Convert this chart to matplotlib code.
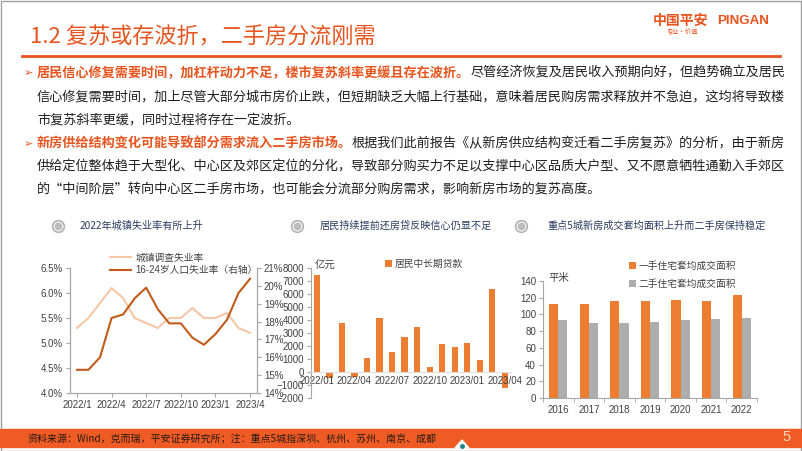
import numpy as np
import matplotlib
matplotlib.use('Agg')
import matplotlib.pyplot as plt
from matplotlib.patches import Rectangle, Polygon

plt.rcParams['font.family'] = ['Liberation Sans', 'Noto Sans CJK SC']
CJK = ['Noto Sans CJK SC', 'DejaVu Sans']

## DATA
months = ['2022/1', '2022/2', '2022/3', '2022/4', '2022/5', '2022/6', '2022/7', '2022/8',
          '2022/9', '2022/10', '2022/11', '2022/12', '2023/1', '2023/2', '2023/3', '2023/4']
urban_rate = [5.3, 5.5, 5.8, 6.1, 5.9, 5.5, 5.4, 5.3, 5.5, 5.5, 5.7, 5.5, 5.5, 5.6, 5.3, 5.2]
youth_rate = [15.3, 15.3, 16.0, 18.2, 18.4, 19.3, 19.9, 18.7, 17.9, 17.9, 17.1, 16.7, 17.3, 18.1, 19.6, 20.4]

loan_months = ['2022/01', '2022/02', '2022/03', '2022/04', '2022/05', '2022/06', '2022/07', '2022/08',
               '2022/09', '2022/10', '2022/11', '2022/12', '2023/01', '2023/02', '2023/03', '2023/04']
loans = [7430, -460, 3760, -420, 1090, 4180, 1530, 2670, 3480, 370, 2140, 1910, 2240, 900, 6380, -1230]

years = ['2016', '2017', '2018', '2019', '2020', '2021', '2022']
new_area = [112, 113, 116, 116, 117, 116, 123]
resale_area = [93, 90, 90, 91, 93, 95, 96]

ORANGE = '#E8541E'
BAR_OR = '#ED7D31'
BAR_GR = '#ADADAD'
DARK = '#1E1E1E'
NAVY = '#2A3A5E'
AXC = '#A6A6A6'
TICKC = '#404040'

fig = plt.figure(figsize=(8.02, 4.51), dpi=100)
bg = fig.add_axes([0, 0, 1, 1])
bg.set_xlim(0, 802)
bg.set_ylim(451, 0)
bg.axis('off')
r = fig.canvas.get_renderer()


def fit_line(parts, x0, x1, y, size=None):
    # draw pieces side by side, scale font so the line ends at x1
    arts = []
    for txt, col, wt in parts:
        arts.append(bg.text(x0, y, txt, color=col, weight=wt, family=CJK,
                            fontsize=10, va='center', ha='left', zorder=3))
    if size is None:
        w = sum(a.get_window_extent(r).width for a in arts)
        size = 10 * (x1 - x0) / w
    x = x0
    for a in arts:
        a.set_fontsize(size)
        a.set_x(x)
        x += a.get_window_extent(r).width
    return size


# frame, header
bg.add_patch(Rectangle((0.5, 0.5), 800, 450, fill=False, ec='#A0A0A0', lw=1))
fit_line([('1.2 复苏或存波折，二手房分流刚需', ORANGE, 'normal')], 30, 376, 38)
bg.plot([22, 780], [56, 56], color=ORANGE, lw=2)
bg.text(653, 21, '中国平安', color=ORANGE, weight='bold', fontsize=10, family=CJK, va='center')
bg.text(717, 21, 'PINGAN', color=ORANGE, weight='bold', fontsize=9.6, va='center')
bg.text(667, 32, '专业·价值', color=ORANGE, fontsize=4.5, family=CJK, va='center')

# body text
para1 = [
    [('居民信心修复需要时间，加杠杆动力不足，楼市复苏斜率更缓且存在波折。', ORANGE, 'bold'),
     ('尽管经济恢复及居民收入预期向好，但趋势确立及居民', DARK, 'normal')],
    [('信心修复需要时间，加上尽管大部分城市房价止跌，但短期缺乏大幅上行基础，意味着居民购房需求释放并不急迫，这均将导致楼', DARK, 'normal')],
    [('市复苏斜率更缓，同时过程将存在一定波折。', DARK, 'normal')],
]
para2 = [
    [('新房供给结构变化可能导致部分需求流入二手房市场。', ORANGE, 'bold'),
     ('根据我们此前报告《从新房供应结构变迁看二手房复苏》的分析，由于新房', DARK, 'normal')],
    [('供给定位整体趋于大型化、中心区及郊区定位的分化，导致部分购买力不足以支撑中心区品质大户型、又不愿意牺牲通勤入手郊区', DARK, 'normal')],
    [('的“中间阶层”转向中心区二手房市场，也可能会分流部分购房需求，影响新房市场的复苏高度。', DARK, 'normal')],
]
for para, ys in [(para1, [73, 97, 120]), (para2, [144, 167, 190])]:
    bg.text(24, ys[0], '➢', color=ORANGE, fontsize=8, family=['DejaVu Sans'], va='center')
    s1 = fit_line(para[0], 37, 785, ys[0])
    s2 = fit_line(para[1], 37, 785, ys[1])
    fit_line(para[2], 37, 785, ys[2], size=s2)

# chart titles with round icons
for ix, tx, title in [(58, 80, '2022年城镇失业率有所上升'),
                      (297, 320, '居民持续提前还房贷反映信心仍显不足'),
                      (521, 547, '重点5城新房成交套均面积上升而二手房保持稳定')]:
    bg.scatter([ix], [226], s=70, facecolor='white', edgecolor='#B0B0B0', lw=1.2, zorder=3)
    bg.scatter([ix], [226], s=22, color='#BDBDBD', zorder=4)
    bg.text(tx, 226, title, color=NAVY, fontsize=7.3, family=CJK, va='center')


def style(ax):
    for s in ax.spines.values():
        s.set_color(AXC)
        s.set_linewidth(0.8)
    ax.tick_params(direction='out', length=3, width=0.8, color=AXC, labelsize=7,
                   labelcolor=TICKC, pad=2)
    ax.patch.set_visible(False)


# left chart: unemployment
ax1 = fig.add_axes([70 / 802, 1 - 393 / 451, 187 / 802, 125 / 451])
x = np.arange(len(months))
l1, = ax1.plot(x, urban_rate, color='#F5C7A6', lw=1.5, solid_joinstyle='round')
ax1.set_ylim(4.0, 6.5)
ax1.set_yticks(np.arange(4.0, 6.51, 0.5))
ax1.set_yticklabels(['%.1f%%' % v for v in np.arange(4.0, 6.51, 0.5)])
ax1.set_xlim(-0.6, 15.6)
ax1.set_xticks(x[::3])
ax1.set_xticklabels(months[::3])
ax1.spines['top'].set_visible(False)
style(ax1)
ax2 = ax1.twinx()
l2, = ax2.plot(x, youth_rate, color='#C25A1C', lw=1.5, solid_joinstyle='round')
ax2.set_ylim(14, 21)
ax2.set_yticks(range(14, 22))
ax2.set_yticklabels(['%d%%' % v for v in range(14, 22)])
ax2.spines['top'].set_visible(False)
style(ax2)
ax1.legend([l1, l2], ['城镇调查失业率', '16-24岁人口失业率（右轴）'], loc='upper left',
           bbox_to_anchor=(105 / 802, 1 - 248 / 451), bbox_transform=fig.transFigure,
           frameon=False, fontsize=7, handlelength=2.2, handletextpad=0.4,
           labelspacing=0.25, borderpad=0, labelcolor=TICKC)

# middle chart: household mid/long-term loans
ax3 = fig.add_axes([311 / 802, 1 - 398 / 451, 200 / 802, 130 / 451])
xl = np.arange(len(loan_months))
b = ax3.bar(xl, loans, width=0.5, color=BAR_OR)
ax3.set_ylim(-2000, 8000)
ax3.set_yticks(range(-2000, 8001, 1000))
ax3.set_xlim(-0.48, 15.5)
ax3.set_xticks(xl[::3])
ax3.set_xticklabels(loan_months[::3])
style(ax3)
ax3.spines['top'].set_visible(False)
ax3.spines['right'].set_visible(False)
ax3.spines['bottom'].set_position(('data', 0))
ax3.spines['bottom'].set_color('#E0E0E0')
ax3.tick_params(axis='x', length=0, pad=3)
ax3.legend([b], ['居民中长期贷款'], loc='upper left',
           bbox_to_anchor=(380 / 802, 1 - 254 / 451), bbox_transform=fig.transFigure,
           frameon=False, fontsize=7, handlelength=0.7, handleheight=0.7,
           handletextpad=0.3, borderpad=0, labelcolor=TICKC)
bg.text(315, 266, '亿元', fontsize=7.5, color=TICKC, family=CJK, va='center')

# right chart: average area per unit
ax4 = fig.add_axes([543 / 802, 1 - 398 / 451, 214 / 802, 117 / 451])
xi = np.arange(len(years))
b1 = ax4.bar(xi - 0.15, new_area, width=0.3, color=BAR_OR)
b2 = ax4.bar(xi + 0.15, resale_area, width=0.3, color=BAR_GR)
ax4.set_ylim(0, 140)
ax4.set_yticks(range(0, 141, 20))
ax4.set_xlim(-0.5, 6.5)
ax4.set_xticks(xi)
ax4.set_xticklabels(years)
ax4.set_xticks(np.arange(-0.5, 7, 1), minor=True)
style(ax4)
ax4.spines['top'].set_visible(False)
ax4.spines['right'].set_visible(False)
ax4.tick_params(axis='x', which='major', length=0, pad=5)
ax4.tick_params(axis='x', which='minor', length=3, color=AXC, direction='out')
ax4.legend([b1, b2], ['一手住宅套均成交面积', '二手住宅套均成交面积'], loc='upper left',
           bbox_to_anchor=(624 / 802, 1 - 256 / 451), bbox_transform=fig.transFigure,
           frameon=False, fontsize=7, handlelength=0.7, handleheight=0.7,
           handletextpad=0.3, labelspacing=0.8, borderpad=0, labelcolor=TICKC)
bg.text(548, 278, '平米', fontsize=7.5, color=TICKC, family=CJK, va='center')

# footer band
bg.add_patch(Rectangle((0, 429), 802, 18, color='#EF5B25', zorder=2))
fit_line([('资料来源：Wind，克而瑞，平安证券研究所；注：重点5城指深圳、杭州、苏州、南京、成都', '#2B1A10', 'normal')],
         28, 435, 439)
bg.text(787, 437, '5', color='#FCD5BE', fontsize=10.5, va='center', ha='center', zorder=3)
bg.add_patch(Polygon([[455, 448], [462, 440], [469, 448]], closed=True, color='white', zorder=3))
bg.scatter([462], [446], s=6, color='#1E7F86', zorder=4)

fig.savefig('out.png', dpi=100)
